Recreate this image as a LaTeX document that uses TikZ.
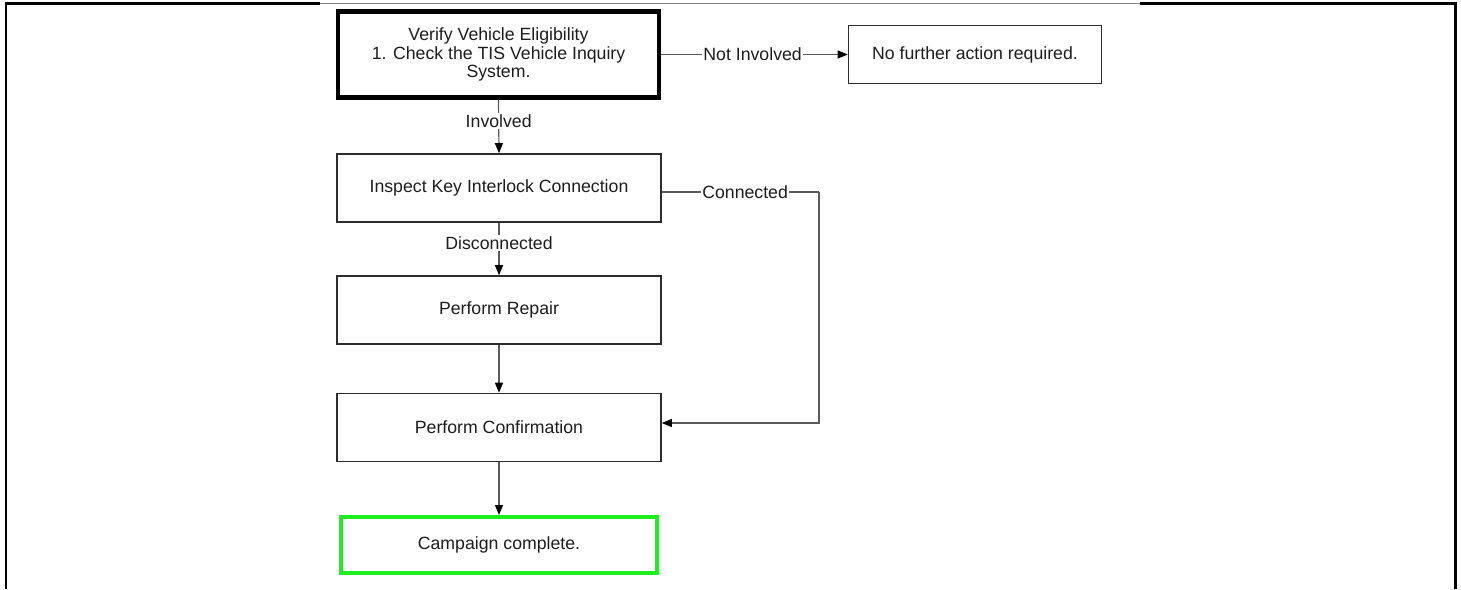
\documentclass[tikz,border=0pt]{standalone}
\usepackage{fontspec}
\setmainfont{Liberation Sans}
\usetikzlibrary{arrows.meta,calc}
\definecolor{boxline}{RGB}{45,45,45}
\definecolor{connline}{RGB}{90,90,90}
\definecolor{txt}{RGB}{30,30,30}
\definecolor{okgreen}{RGB}{30,238,30}
\begin{document}
\begin{tikzpicture}[x=1pt,y=-1pt,
  every node/.style={font=\fontsize{17.7}{21}\selectfont, text=txt},
  flowbox/.style={draw=boxline, line width=1.6pt, fill=white, minimum width=324pt, minimum height=68pt, inner sep=0pt, align=center},
  startbox/.style={flowbox, draw=black, line width=4.5pt, minimum width=321pt, minimum height=86pt, font=\fontsize{17.7}{18.5}\selectfont},
  endbox/.style={flowbox, draw=okgreen, line width=4pt, minimum width=316pt, minimum height=56pt},
  conn/.style={draw=connline, line width=1.2pt},
  arr/.style={conn, -{Triangle[length=10pt,width=8pt,color=black,fill=black]}},
  lbl/.style={fill=white, inner sep=1.5pt}
]
\useasboundingbox (0,0) rectangle (1461,589);
% frame
\draw[line width=2.6pt] (6,589) -- (6,3.2) -- (320,3.2);
\draw[line width=1pt, gray] (320,3.2) -- (1140,3.2);
\draw[line width=2.6pt] (1140,3.2) -- (1455.6,3.2) -- (1455.6,589);

% nodes
\node[startbox] (verify) at (498.5,54.5) {Verify Vehicle Eligibility\\1. Check the TIS Vehicle Inquiry\\System.};
\node[flowbox, minimum width=253pt, minimum height=58pt] (nofurther) at (975,54.5) {No further action required.};
\node[flowbox] (inspect) at (499,188) {Inspect Key Interlock Connection};
\node[flowbox] (repair) at (499,310) {Perform Repair};
\node[flowbox] (confirm) at (499,427.5) {Perform Confirmation};
\node[endbox] (campaign) at (499,545) {Campaign complete.};

\coordinate (cturnA) at (819,192);
\coordinate (cturnB) at (819,423);

% connectors
\draw[arr] (verify.east) -- node[lbl, pos=0.49]{Not Involved} (nofurther.west);
\draw[arr] (verify.south) -- node[lbl, pos=0.4]{Involved} (inspect.north);
\draw[arr] (inspect.south) -- node[lbl, pos=0.38]{Disconnected} (repair.north);
\draw[arr] (repair.south) -- (confirm.north);
\draw[arr] (confirm.south) -- (campaign.north);
\draw[conn] (inspect.east |- cturnA) -- node[lbl, pos=0.53]{Connected} (cturnA);
\draw[arr] (cturnA) -- (cturnB) -- (confirm.east |- cturnB);
\end{tikzpicture}
\end{document}
